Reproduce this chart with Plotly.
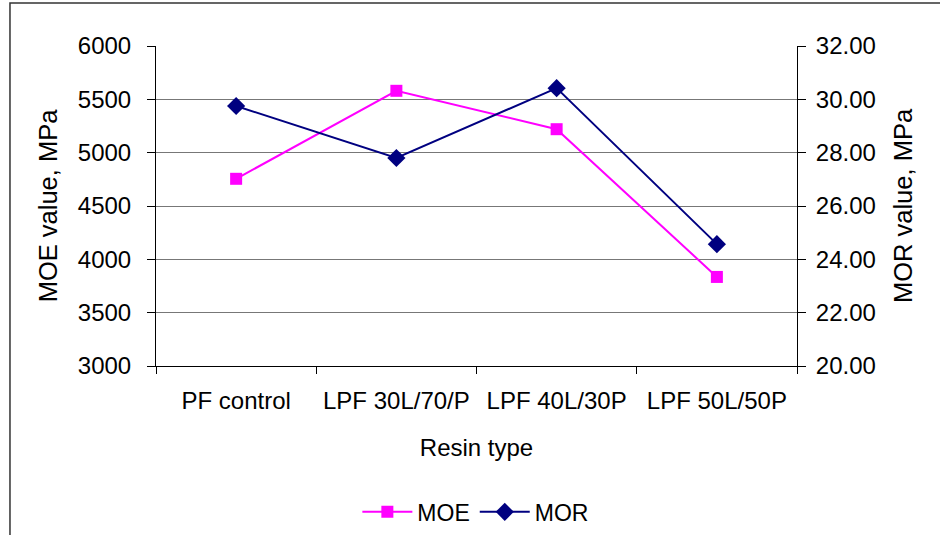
import plotly.graph_objects as go

# Resin types and measured bending properties
resins = ["PF control", "LPF 30L/70/P", "LPF 40L/30P", "LPF 50L/50P"]
moe_mpa = [4755, 5580, 5220, 3835]
mor_mpa = [29.75, 27.80, 30.42, 24.57]

moe_ticks = [3000, 3500, 4000, 4500, 5000, 5500, 6000]
mor_ticks = [20, 22, 24, 26, 28, 30, 32]

FONT = "Liberation Sans, Arial, sans-serif"
FS = 24

fig = go.Figure()

fig.add_trace(go.Scatter(
    x=resins, y=moe_mpa, name="MOE", mode="lines+markers",
    line=dict(color="#FF00FF", width=2),
    marker=dict(symbol="square", size=12, color="#FF00FF"),
    yaxis="y",
))
fig.add_trace(go.Scatter(
    x=resins, y=mor_mpa, name="MOR", mode="lines+markers",
    line=dict(color="#000080", width=2),
    marker=dict(symbol="diamond", size=14, color="#000080"),
    yaxis="y2",
))

fig.update_layout(
    width=940, height=535,
    margin=dict(l=156, r=143, t=46, b=169, autoexpand=False),
    paper_bgcolor="white", plot_bgcolor="white",
    font=dict(family=FONT, size=FS, color="black"),
    showlegend=True,
    legend=dict(
        orientation="h", x=0.499, xanchor="center",
        y=-0.456, yanchor="middle",
        font=dict(size=23), itemwidth=50,
        bgcolor="rgba(0,0,0,0)",
    ),
    xaxis=dict(
        type="category", range=[-0.5, 3.5],
        tickson="boundaries", ticks="outside", ticklen=7,
        tickcolor="black", showline=True, linecolor="black", linewidth=1,
        showgrid=False, zeroline=False,
        ticklabelstandoff=13,
        title=dict(text="Resin type", standoff=26, font=dict(size=FS)),
    ),
    yaxis=dict(
        range=[3000, 6000], tickvals=moe_ticks,
        ticks="outside", ticklen=8, tickcolor="black",
        showline=True, linecolor="black", linewidth=1,
        showgrid=True, gridcolor="#777777", gridwidth=1.4,
        zeroline=False, ticklabelstandoff=11,
        title=dict(text="MOE value, MPa", standoff=12, font=dict(size=25.5)),
    ),
    yaxis2=dict(
        range=[20, 32], tickvals=mor_ticks, tickformat=".2f",
        overlaying="y", side="right", anchor="x",
        ticks="outside", ticklen=8, tickcolor="black",
        showline=True, linecolor="black", linewidth=1,
        showgrid=False, zeroline=False, ticklabelstandoff=5,
        title=dict(text="MOR value, MPa", standoff=19, font=dict(size=25.5)),
    ),
    # inner half of the crossing tick marks on the right axis
    yaxis3=dict(
        range=[20, 32], tickvals=mor_ticks,
        overlaying="y", side="right", anchor="x",
        ticks="inside", ticklen=7, tickcolor="black",
        showticklabels=False, showline=False, showgrid=False, zeroline=False,
    ),
)

# chart-area frame
fig.add_shape(
    type="rect", xref="paper", yref="paper",
    x0=-0.2278, x1=1.25, y0=-0.6, y1=1.134,
    line=dict(color="#333333", width=1.5), fillcolor="rgba(0,0,0,0)",
    layer="below",
)

fig.write_html("out.html")
